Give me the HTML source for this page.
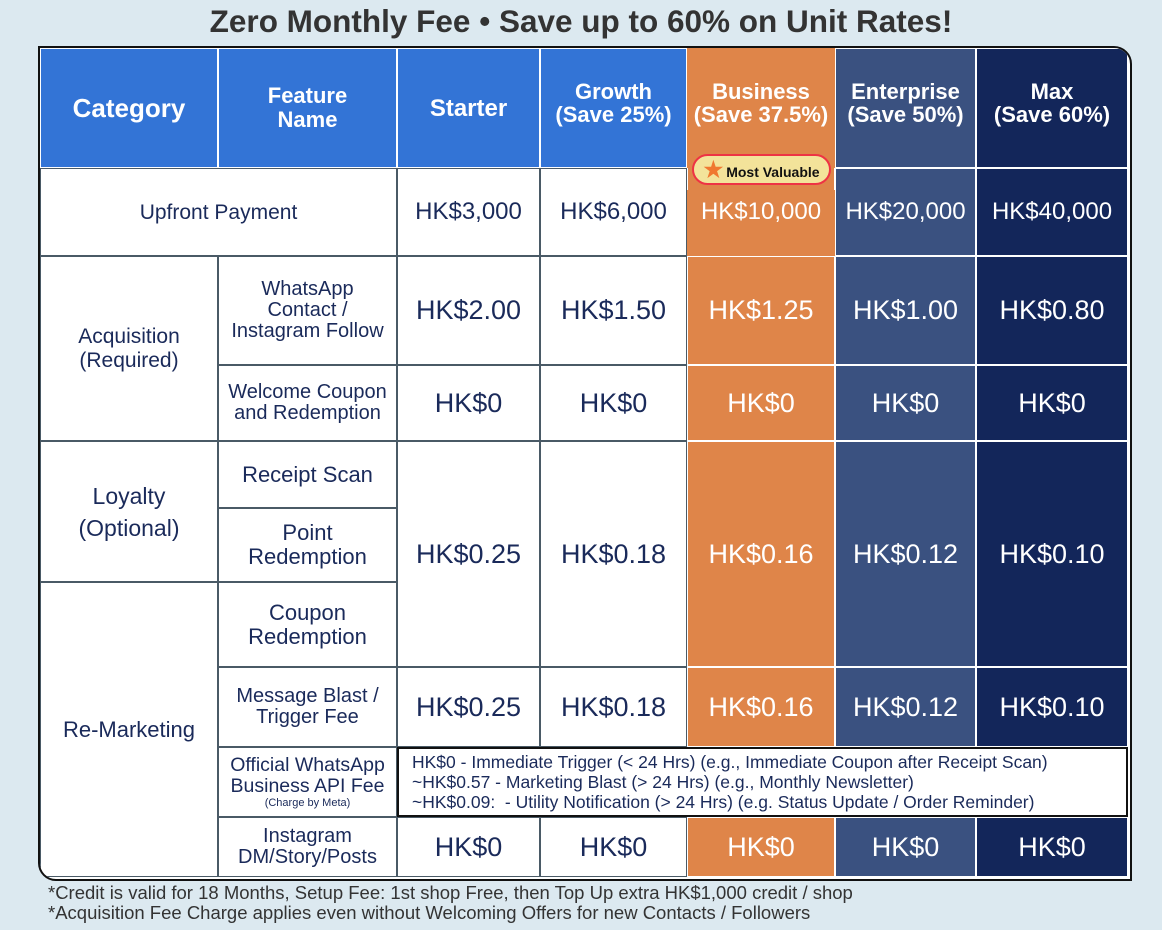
<!DOCTYPE html>
<html><head><meta charset="utf-8"><style>
body{margin:0;width:1162px;height:930px;background:#dce9f0;font-family:"Liberation Sans",sans-serif;position:relative;overflow:hidden}
.t{position:absolute;left:0;width:1162px;top:3px;text-align:center;font-size:31.5px;font-weight:bold;color:#333}
.tb{position:absolute;left:38px;top:46px;width:1090px;height:831px;border:2px solid #111;border-radius:0 18px 0 18px;overflow:hidden;background:#fff}
.c{position:absolute;box-sizing:border-box;display:flex;align-items:center;justify-content:center;text-align:center;color:#1a2a5a;border:1px solid #4a5a66}
.h{color:#fff;font-weight:bold;font-size:25px;line-height:25px;border-color:#fff}
.v{font-size:27px}
.f{font-size:20px;line-height:21px}
.o{background:#df8549;color:#fff;border-color:#fff}
.e{background:#3a5180;color:#fff;border-color:#fff}
.m{background:#13265a;color:#fff;border-color:#fff}
.b{background:#3374d6}
.foot{position:absolute;left:48px;font-size:18.5px;color:#333}
</style></head><body>
<div class="t">Zero Monthly Fee • Save up to 60% on Unit Rates!</div>
<div class="tb" id="t"></div>
<div class="foot" style="top:882px">*Credit is valid for 18 Months, Setup Fee: 1st shop Free, then Top Up extra HK$1,000 credit / shop</div>
<div class="foot" style="top:902px">*Acquisition Fee Charge applies even without Welcoming Offers for new Contacts / Followers</div>
<script>
const T=document.getElementById('t');
function c(x1,y1,x2,y2,cls,html,st){const d=document.createElement('div');d.className='c '+cls;d.style.left=(x1-40)+'px';d.style.top=(y1-48)+'px';d.style.width=(x2-x1)+'px';d.style.height=(y2-y1)+'px';if(st)d.style.cssText+=st;d.innerHTML='<div>'+html+'</div>';T.appendChild(d);}
const HS='font-size:22px;line-height:23px;padding-bottom:10px';
c(40,48,218,168,'h b','Category','font-size:26px');
c(218,48,397,168,'h b','Feature<br>Name','font-size:22px;line-height:24px');
c(397,48,540,168,'h b','Starter','font-size:24px');
c(540,48,687,168,'h b','Growth<br>(Save 25%)',HS);
c(687,48,835,256,'o','','');
c(687,48,835,168,'h o','Business<br>(Save 37.5%)','border:none;'+HS);
c(835,48,976,168,'h e','Enterprise<br>(Save 50%)',HS);
c(976,48,1128,168,'h m','Max<br>(Save 60%)',HS);
c(40,168,397,256,'f','Upfront Payment','font-size:21px');
c(397,168,540,256,'v','HK$3,000','font-size:24px');
c(540,168,687,256,'v','HK$6,000','font-size:24px');
c(687,190,835,256,'v o','HK$10,000','border:none;font-size:24px;align-items:flex-start;padding-top:8px');
c(835,168,976,256,'v e','HK$20,000','font-size:24px');
c(976,168,1128,256,'v m','HK$40,000','font-size:24px');
c(692,154,831,185,'','<span style="color:#f07830;font-size:22px;margin-right:3px">★</span>Most Valuable','background:#f3e39a;border:2px solid #e34;border-radius:16px;font-size:14px;font-weight:bold;color:#111');
c(40,256,218,441,'f','Acquisition<br>(Required)','font-size:21px;line-height:24px');
c(218,256,397,365,'f','WhatsApp<br>Contact /<br>Instagram Follow');
c(397,256,540,365,'v','HK$2.00');c(540,256,687,365,'v','HK$1.50');
c(687,256,835,365,'v o','HK$1.25');c(835,256,976,365,'v e','HK$1.00');c(976,256,1128,365,'v m','HK$0.80');
c(218,365,397,441,'f','Welcome Coupon<br>and Redemption');
c(397,365,540,441,'v','HK$0');c(540,365,687,441,'v','HK$0');
c(687,365,835,441,'v o','HK$0');c(835,365,976,441,'v e','HK$0');c(976,365,1128,441,'v m','HK$0');
c(40,441,218,582,'f','Loyalty<br>(Optional)','font-size:23px;line-height:32px');
c(40,582,218,877,'f','Re-Marketing','font-size:22px;padding-top:0');
c(218,441,397,508,'f','Receipt Scan','font-size:22px');
c(218,508,397,582,'f','Point<br>Redemption','font-size:22px;line-height:24px');
c(218,582,397,667,'f','Coupon<br>Redemption','font-size:22px;line-height:24px');
c(397,441,540,667,'v','HK$0.25');c(540,441,687,667,'v','HK$0.18');
c(687,441,835,667,'v o','HK$0.16');c(835,441,976,667,'v e','HK$0.12');c(976,441,1128,667,'v m','HK$0.10');
c(218,667,397,747,'f','Message Blast /<br>Trigger Fee');
c(397,667,540,747,'v','HK$0.25');c(540,667,687,747,'v','HK$0.18');
c(687,667,835,747,'v o','HK$0.16');c(835,667,976,747,'v e','HK$0.12');c(976,667,1128,747,'v m','HK$0.10');
c(218,747,397,817,'f','Official WhatsApp<br>Business API Fee<br><span style="font-size:11px;line-height:13px;display:block">(Charge by Meta)</span>','font-size:19.5px');
c(397,747,1128,817,'','HK$0 - Immediate Trigger (&lt; 24 Hrs) (e.g., Immediate Coupon after Receipt Scan)<br>~HK$0.57 - Marketing Blast (&gt; 24 Hrs) (e.g., Monthly Newsletter)<br>~HK$0.09:&nbsp; - Utility Notification (&gt; 24 Hrs) (e.g. Status Update / Order Reminder)','justify-content:flex-start;text-align:left;padding-left:13px;font-size:17.5px;line-height:20px;border:2px solid #111');
c(218,817,397,877,'f','Instagram<br>DM/Story/Posts');
c(397,817,540,877,'v','HK$0');c(540,817,687,877,'v','HK$0');
c(687,817,835,877,'v o','HK$0');c(835,817,976,877,'v e','HK$0');c(976,817,1128,877,'v m','HK$0');
</script>
</body></html>
